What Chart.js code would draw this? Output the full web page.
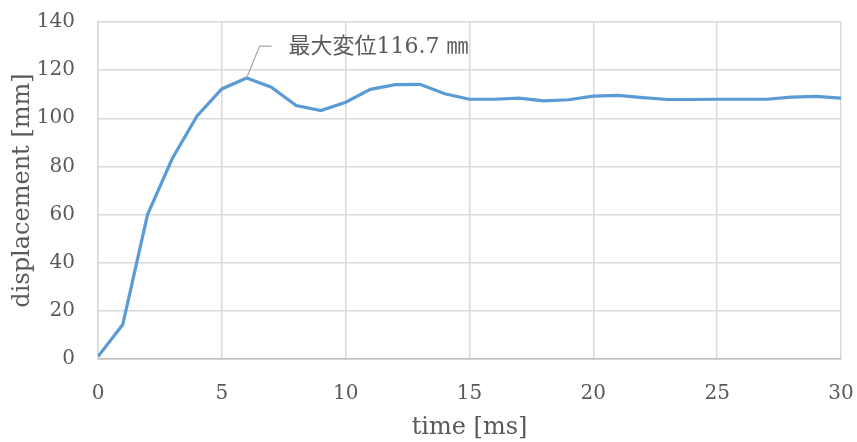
<!DOCTYPE html>
<html>
<head>
<meta charset="utf-8">
<script src="https://cdn.jsdelivr.net/npm/chart.js@4"></script>
<style>
  html, body { margin: 0; padding: 0; background: #fff; }
  #wrap { width: 857px; height: 442px; }
</style>
</head>
<body>
<div id="wrap"><canvas id="c" width="857" height="442"></canvas></div>
<script>
const timeMs = [0,1,2,3,4,5,6,7,8,9,10,11,12,13,14,15,16,17,18,19,20,21,22,23,24,25,26,27,28,29,30];
const displacement = [1,14.3,60,83.3,101,112.2,116.7,112.9,105.3,103.2,106.7,112,114,114.1,110.2,107.9,107.9,108.4,107.2,107.7,109.2,109.5,108.6,107.8,107.8,107.9,107.9,107.9,108.8,109.1,108.4];
const xTicks = [0,5,10,15,20,25,30];
const yTicks = [0,20,40,60,80,100,120,140];
const xTitle = 'time [ms]';
const yTitle = 'displacement [mm]';
const peakTime = 6;
const peakValue = 116.7;
const peakLabel = '最大変位116.7 ㎜';

const serif = '"DejaVu Serif", "Liberation Serif", serif';
const textColor = '#595959';

const peakAnnotation = {
  id: 'peakAnnotation',
  afterDatasetsDraw(chart) {
    const ctx = chart.ctx;
    const xs = chart.scales.x, ys = chart.scales.y;
    const px = xs.getPixelForValue(peakTime);
    const py = ys.getPixelForValue(peakValue);
    ctx.save();
    ctx.strokeStyle = '#a6a6a6';
    ctx.lineWidth = 1.2;
    ctx.beginPath();
    ctx.moveTo(px, py);
    ctx.lineTo(px + 13, py - 32);
    ctx.lineTo(px + 25, py - 32);
    ctx.stroke();
    ctx.fillStyle = textColor;
    ctx.font = '22px "DejaVu Serif", "Noto Sans CJK JP", serif';
    ctx.textBaseline = 'middle';
    ctx.textAlign = 'left';
    ctx.fillText(peakLabel, px + 42, py - 31);
    ctx.restore();
  }
};

new Chart(document.getElementById('c'), {
  type: 'line',
  data: {
    datasets: [{
      data: timeMs.map((t, i) => ({ x: t, y: displacement[i] })),
      borderColor: '#5b9bd5',
      borderWidth: 3.2,
      pointRadius: 0,
      tension: 0,
      fill: false
    }]
  },
  options: {
    responsive: false,
    animation: false,
    layout: { padding: { left: 0, top: 22, right: 16, bottom: 0 } },
    plugins: { legend: { display: false }, tooltip: { enabled: false } },
    scales: {
      x: {
        type: 'linear',
        min: 0, max: 30,
        afterBuildTicks(scale) { scale.ticks = xTicks.map(v => ({ value: v })); },
        afterFit(scale) { scale.height = 83; scale.paddingLeft = 0; scale.paddingRight = 0; },
        grid: { color: '#d9d9d9', lineWidth: 1.5, drawTicks: false },
        border: { color: '#bfbfbf', width: 1.5 },
        ticks: { color: textColor, font: { family: serif, size: 20 }, padding: 23, maxRotation: 0 },
        title: { display: true, text: xTitle, color: textColor, font: { family: serif, size: 24 }, padding: { top: 0, bottom: 0 } }
      },
      y: {
        min: 0, max: 140,
        afterBuildTicks(scale) { scale.ticks = yTicks.map(v => ({ value: v })); },
        afterFit(scale) { scale.width = 98; scale.paddingTop = 0; scale.paddingBottom = 0; },
        grid: { color: '#d9d9d9', lineWidth: 1.5, drawTicks: false },
        border: { color: '#d9d9d9', width: 1.5 },
        ticks: { color: textColor, font: { family: serif, size: 20 }, padding: 23 },
        title: { display: true, text: yTitle, color: textColor, font: { family: serif, size: 24 }, padding: { top: 8, bottom: 0 } }
      }
    }
  },
  plugins: [peakAnnotation]
});
</script>
</body>
</html>
